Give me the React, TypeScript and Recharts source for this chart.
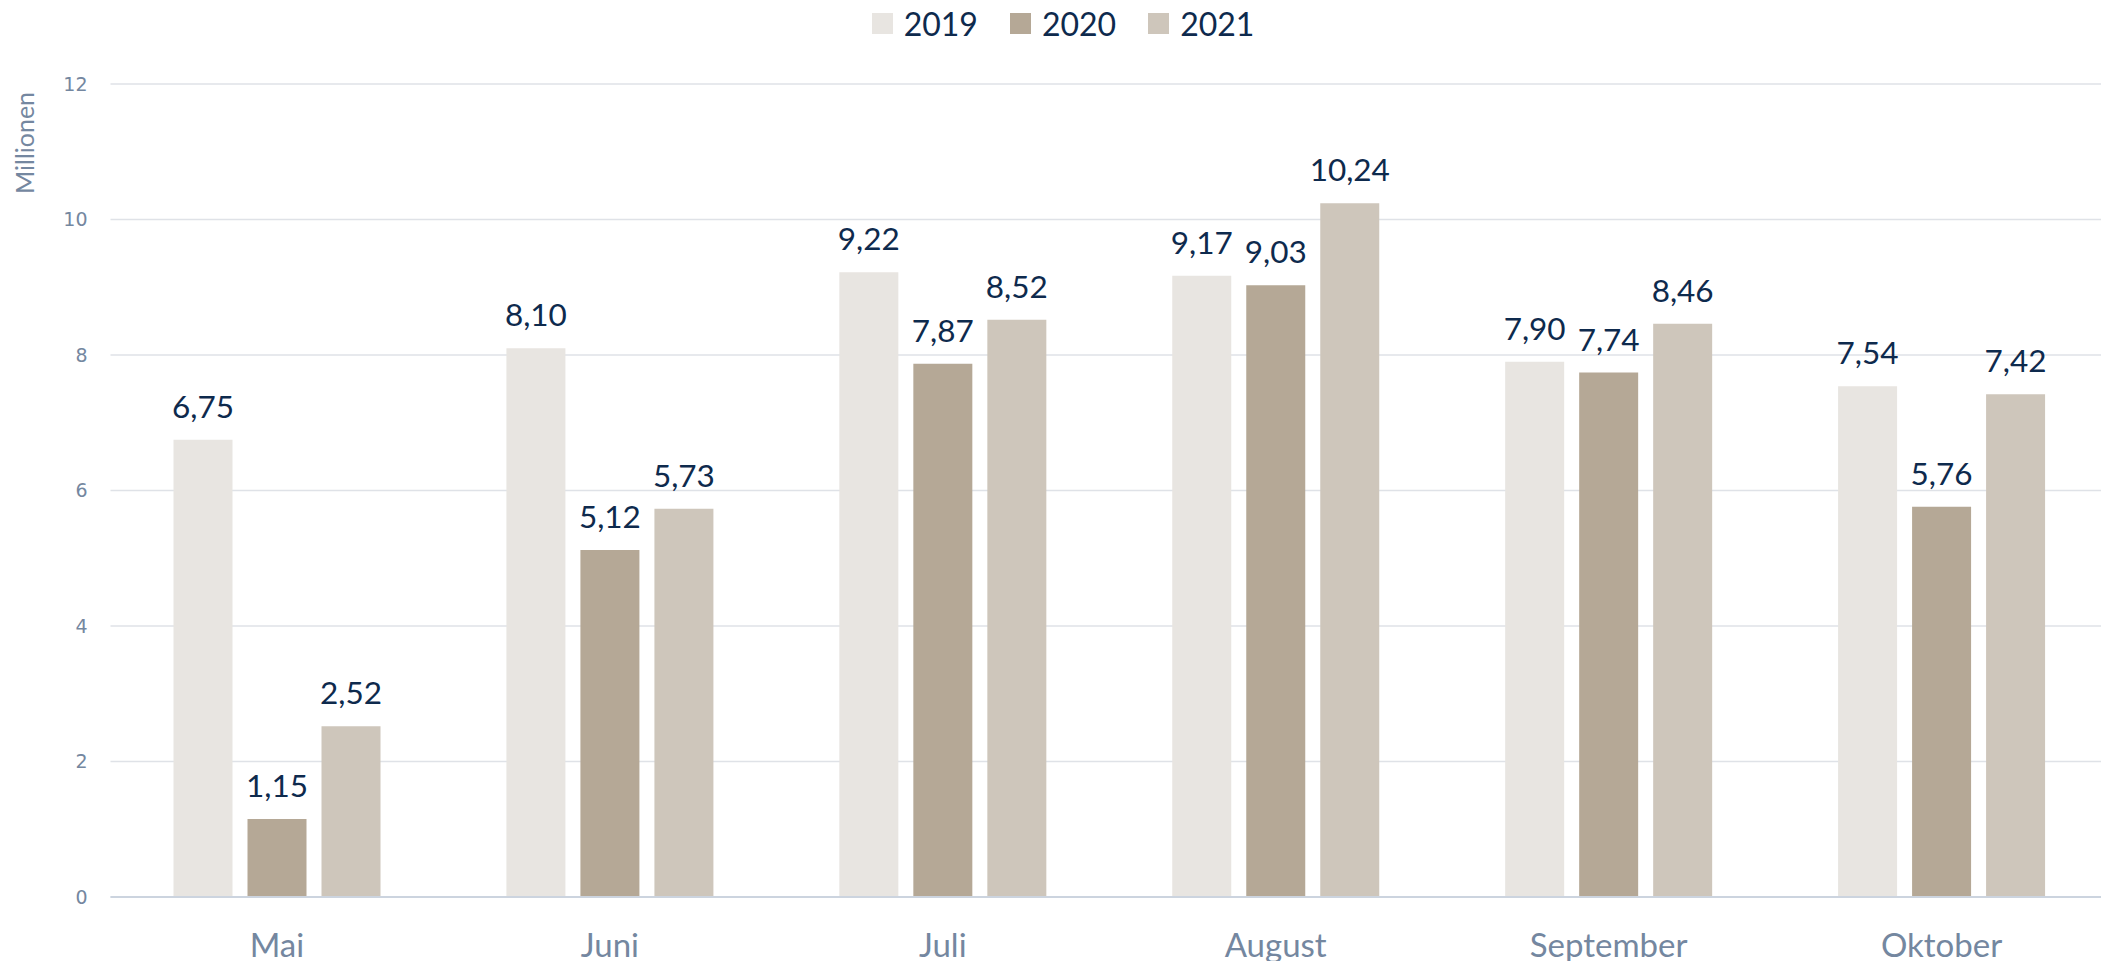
import React from 'react';
import {
  BarChart,
  Bar,
  XAxis,
  YAxis,
  CartesianGrid,
  Legend,
  LabelList,
} from 'recharts';

const months = ['Mai', 'Juni', 'Juli', 'August', 'September', 'Oktober'];
const values2019 = [6.75, 8.1, 9.22, 9.17, 7.9, 7.54];
const values2020 = [1.15, 5.12, 7.87, 9.03, 7.74, 5.76];
const values2021 = [2.52, 5.73, 8.52, 10.24, 8.46, 7.42];
const yTicks = [0, 2, 4, 6, 8, 10, 12];

const data = months.map((m, i) => ({
  month: m,
  y2019: values2019[i],
  y2020: values2020[i],
  y2021: values2021[i],
}));

const LABEL_FONT = 'Lato, "Open Sans", sans-serif';
const NAVY = '#0e2a4d';
const AXIS_GREY = '#7487a0';

const fmt = (v: any) => Number(v).toFixed(2).replace('.', ',');

const renderLegend = (props: any) => {
  const { payload } = props;
  return (
    <div
      style={{
        height: 46,
        display: 'flex',
        justifyContent: 'center',
        alignItems: 'center',
        paddingLeft: 50,
        fontFamily: LABEL_FONT,
        fontSize: 32,
        color: NAVY,
      }}
    >
      {payload.map((p: any) => (
        <div key={p.value} style={{ display: 'flex', alignItems: 'center', marginRight: 32 }}>
          <span style={{ width: 21, height: 21, background: p.color, marginRight: 11, display: 'inline-block' }} />
          <span>{p.value}</span>
        </div>
      ))}
    </div>
  );
};

const YLabel = (props: any) => {
  const vb = props.viewBox;
  const x = vb.x + 24;
  const y = vb.y + 59;
  return (
    <text
      x={x}
      y={y}
      transform={`rotate(-90, ${x}, ${y})`}
      textAnchor="middle"
      dominantBaseline="central"
      fill={AXIS_GREY}
      style={{ fontFamily: LABEL_FONT, fontSize: 25 }}
    >
      Millionen
    </text>
  );
};

const App: React.FC = () => {
  return (
    <div style={{ position: 'absolute', left: 0, top: 0, width: 2101, height: 961, overflow: 'hidden', background: '#fff' }}>
      <BarChart
        width={2112}
        height={961}
        data={data}
        margin={{ top: 38, right: 4, left: 0, bottom: 0 }}
        barSize={59}
        barGap={15}
      >
        <CartesianGrid vertical={false} stroke="#dfe2e7" strokeWidth={1.5} />
        <XAxis
          dataKey="month"
          height={64}
          tickLine={false}
          tickSize={0}
          tickMargin={37}
          axisLine={{ stroke: '#ccd4df', strokeWidth: 2 }}
          tick={{ fill: AXIS_GREY, fontSize: 33, fontFamily: LABEL_FONT }}
          interval={0}
        />
        <YAxis
          width={110.5}
          domain={[0, 12]}
          ticks={yTicks}
          tickLine={false}
          axisLine={false}
          tickSize={0}
          tickMargin={23}
          tick={{ fill: AXIS_GREY, fontSize: 19, fontFamily: '"DejaVu Sans", sans-serif' }}
          label={<YLabel />}
        />
        <Legend verticalAlign="top" align="center" content={renderLegend} wrapperStyle={{ top: 0 }} />
        <Bar dataKey="y2019" name="2019" fill="#e8e5e1" isAnimationActive={false}>
          <LabelList dataKey="y2019" position="top" offset={22} formatter={fmt} fill={NAVY} style={{ fontFamily: LABEL_FONT, fontSize: 31.5 }} />
        </Bar>
        <Bar dataKey="y2020" name="2020" fill="#b5a896" isAnimationActive={false}>
          <LabelList dataKey="y2020" position="top" offset={22} formatter={fmt} fill={NAVY} style={{ fontFamily: LABEL_FONT, fontSize: 31.5 }} />
        </Bar>
        <Bar dataKey="y2021" name="2021" fill="#cec6bb" isAnimationActive={false}>
          <LabelList dataKey="y2021" position="top" offset={22} formatter={fmt} fill={NAVY} style={{ fontFamily: LABEL_FONT, fontSize: 31.5 }} />
        </Bar>
      </BarChart>
    </div>
  );
};

export default App;
